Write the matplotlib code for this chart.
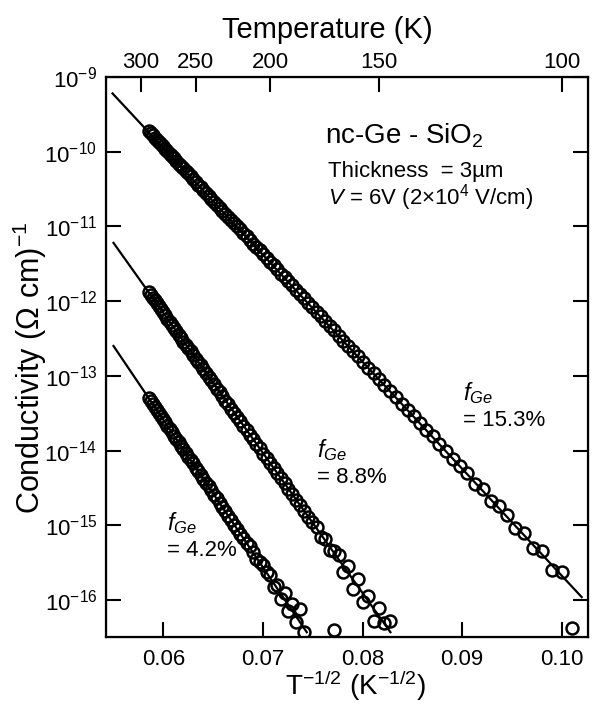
import numpy as np
import matplotlib
matplotlib.use('Agg')
import matplotlib.pyplot as plt
from matplotlib.ticker import LogLocator, NullLocator, FixedLocator, FormatStrFormatter

plt.rcParams['font.family'] = ['Liberation Sans', 'DejaVu Sans']
plt.rcParams['mathtext.fontset'] = 'custom'
plt.rcParams['mathtext.rm'] = 'Liberation Sans'
plt.rcParams['mathtext.it'] = 'Liberation Sans:italic'
plt.rcParams['mathtext.default'] = 'regular'

# measurement temperatures (K), shared by the three films
temps = [292, 290, 288, 286, 284, 282, 280, 278, 276, 274,
         272, 270, 268, 266, 264, 262, 260, 258, 256, 254,
         252, 250, 248, 246, 244, 242, 240, 238, 236, 234,
         232, 230, 228, 226, 224, 222, 220, 218, 216, 214,
         212, 210, 208, 206, 204, 202, 200, 198, 196, 194,
         192, 190, 188, 186, 184, 182, 180, 178, 176, 174,
         172, 170, 168, 166, 164, 162, 160, 158, 156, 154,
         152, 150, 148, 146, 144, 142, 140, 138, 136, 134,
         132, 130, 128, 126, 124, 122, 120, 118, 116, 114,
         112, 110, 108, 106, 104, 102, 100, 98]

# log10 conductivity
logsig_153 = [-9.72, -9.75, -9.78, -9.81, -9.84, -9.87, -9.90, -9.93, -9.96, -9.99,
              -10.03, -10.06, -10.09, -10.12, -10.16, -10.19, -10.22, -10.26, -10.29, -10.33,
              -10.36, -10.40, -10.44, -10.47, -10.51, -10.55, -10.59, -10.63, -10.67, -10.71,
              -10.75, -10.79, -10.83, -10.87, -10.91, -10.96, -11.00, -11.04, -11.09, -11.13,
              -11.18, -11.23, -11.27, -11.32, -11.37, -11.42, -11.47, -11.52, -11.57, -11.63,
              -11.68, -11.73, -11.79, -11.85, -11.90, -11.96, -12.02, -12.08, -12.14, -12.20,
              -12.27, -12.33, -12.39, -12.46, -12.53, -12.60, -12.67, -12.74, -12.81, -12.89,
              -12.96, -13.04, -13.12, -13.20, -13.28, -13.37, -13.45, -13.54, -13.63, -13.72,
              -13.81, -13.91, -14.01, -14.11, -14.21, -14.30, -14.45, -14.51, -14.68, -14.74,
              -14.86, -15.03, -15.10, -15.30, -15.35, -15.60, -15.62, -16.37]

logsig_88 = [-11.88, -11.92, -11.96, -11.99, -12.03, -12.07, -12.11, -12.15, -12.19, -12.24,
             -12.28, -12.32, -12.36, -12.40, -12.45, -12.49, -12.54, -12.58, -12.63, -12.67,
             -12.72, -12.77, -12.81, -12.86, -12.91, -12.96, -13.01, -13.06, -13.11, -13.17,
             -13.22, -13.27, -13.33, -13.38, -13.44, -13.49, -13.55, -13.61, -13.67, -13.73,
             -13.79, -13.85, -13.91, -13.97, -14.04, -14.10, -14.17, -14.23, -14.30, -14.37,
             -14.44, -14.51, -14.58, -14.66, -14.73, -14.81, -14.89, -14.96, -15.02, -15.15,
             -15.18, -15.33, -15.34, -15.40, -15.62, -15.55, -15.85, -15.72, -16.02, -15.95,
             -16.28, -16.10, -16.31, -16.28]

logsig_42 = [-13.29, -13.33, -13.37, -13.41, -13.45, -13.50, -13.54, -13.58, -13.62, -13.67,
             -13.71, -13.75, -13.80, -13.84, -13.89, -13.94, -13.98, -14.03, -14.08, -14.13,
             -14.17, -14.23, -14.27, -14.33, -14.38, -14.43, -14.48, -14.53, -14.59, -14.64,
             -14.70, -14.76, -14.81, -14.87, -14.93, -14.99, -15.05, -15.11, -15.17, -15.23,
             -15.27, -15.36, -15.45, -15.49, -15.53, -15.63, -15.66, -15.82, -15.80, -15.98,
             -15.90, -16.15, -16.05, -16.30, -16.12, -16.43]

stray_T = [168]
stray_logsig = [-16.40]

# fitted straight lines (end points, x = T^-1/2)
fit_x_153 = [0.0549, 0.1020]
fit_y_153 = [-9.22, -15.96]
fit_x_88 = [0.0550, 0.0828]
fit_y_88 = [-11.22, -16.43]
fit_x_42 = [0.0550, 0.0744]
fit_y_42 = [-12.60, -16.43]

top_T = [300, 250, 200, 150, 100]
x_ticks = [0.06, 0.07, 0.08, 0.09, 0.10]

fig = plt.figure(figsize=(5.93, 7.13), dpi=100)
ax = fig.add_axes([0.178, 0.106, 0.813, 0.786])

T = np.array(temps, dtype=float)
mk = dict(ls='none', marker='o', mfc='none', mec='k', ms=8.6, mew=1.8)
for lg in (logsig_153, logsig_88, logsig_42):
    n = len(lg)
    ax.plot(T[:n] ** -0.5, 10 ** np.array(lg), **mk)
ax.plot(np.array(stray_T, dtype=float) ** -0.5, 10 ** np.array(stray_logsig), **mk)

for fx, fy in ((fit_x_153, fit_y_153), (fit_x_88, fit_y_88), (fit_x_42, fit_y_42)):
    ax.plot(fx, 10 ** np.array(fy), color='k', lw=1.6, zorder=5)

ax.set_yscale('log')
ax.set_xlim(0.0542, 0.1026)
ax.set_ylim(10 ** -16.5, 1e-9)
ax.yaxis.set_major_locator(LogLocator(base=10, numticks=20))
ax.yaxis.set_minor_locator(NullLocator())
ax.xaxis.set_major_locator(FixedLocator(x_ticks))
ax.xaxis.set_major_formatter(FormatStrFormatter('%.2f'))
ax.tick_params(which='major', direction='in', length=11, width=1.5,
               right=True, top=False, labelsize=16)
ax.tick_params(axis='x', pad=8)
ax.tick_params(axis='y', pad=6)
for s in ax.spines.values():
    s.set_linewidth(1.6)
ax.xaxis.get_offset_text().set_visible(False)
ax.yaxis.get_offset_text().set_visible(False)

ax2 = ax.twiny()
ax2.set_xlim(ax.get_xlim())
ax2.set_xticks([t ** -0.5 for t in top_T])
ax2.set_xticklabels([str(t) for t in top_T])
ax2.xaxis.set_minor_locator(NullLocator())
ax2.tick_params(direction='in', length=11, width=1.5, labelsize=16, pad=3)
ax2.xaxis.get_offset_text().set_visible(False)
ax2.yaxis.set_visible(False)

fig.text(0.552, 0.958, 'Temperature (K)', ha='center', va='center', fontsize=21)
fig.text(0.600, 0.038, r'T$^{-1/2}$ (K$^{-1/2}$)', ha='center', va='center', fontsize=20)
fig.text(0.050, 0.484, r'Conductivity ($\Omega$ cm)$^{-1}$', ha='center', va='center',
         rotation=90, fontsize=22)

ax.text(0.455, 0.882, r'nc-Ge - SiO$_2$', transform=ax.transAxes, fontsize=20, va='baseline')
ax.text(0.462, 0.821, 'Thickness  = 3\u00b5m', transform=ax.transAxes, fontsize=16, va='baseline')
ax.text(0.462, 0.772, r'$\mathit{V}$ = 6V (2$\times$10$^4$ V/cm)', transform=ax.transAxes,
        fontsize=16, va='baseline')

for xf, yf, lab in ((0.742, 0.424, '= 15.3%'), (0.439, 0.322, '= 8.8%'), (0.128, 0.192, '= 4.2%')):
    ax.text(xf, yf, r'$\mathit{f}_{\mathit{Ge}}$', transform=ax.transAxes, fontsize=17, va='baseline')
    ax.text(xf, yf - 0.047, lab, transform=ax.transAxes, fontsize=16, va='baseline')

fig.savefig('out.png', dpi=100)
